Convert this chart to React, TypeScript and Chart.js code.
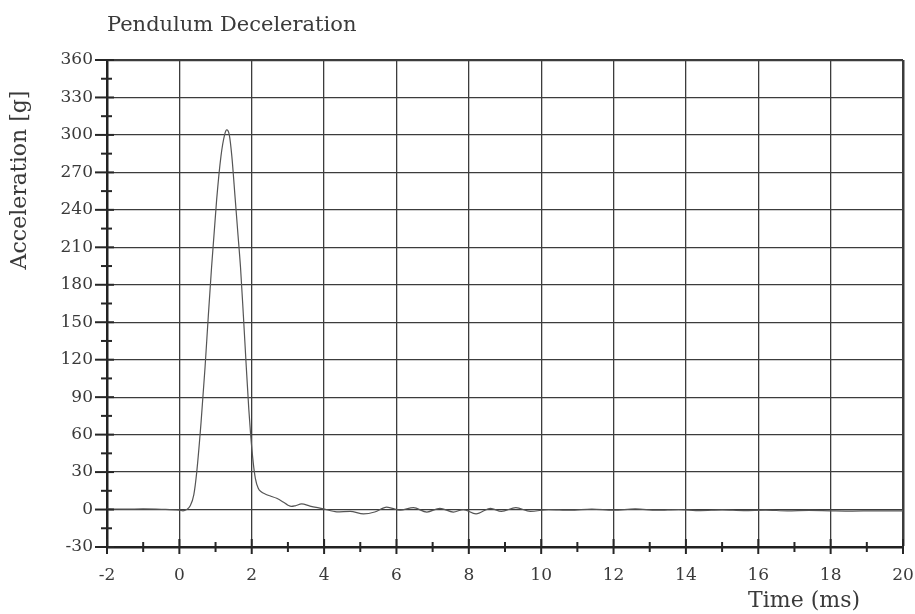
import React, { useEffect, useRef } from "react";
import { Chart, registerables } from "chart.js";

Chart.register(...registerables);

const TITLE = "Pendulum Deceleration";
const X_TITLE = "Time (ms)";
const Y_TITLE = "Acceleration [g]";

const X_MIN = -2;
const X_MAX = 20;
const X_STEP = 2;
const Y_MIN = -30;
const Y_MAX = 360;
const Y_STEP = 30;

const timeMs = [
  -2, -1.5, -1, -0.5, 0, 0.1, 0.2, 0.3, 0.4, 0.48, 0.6, 0.71, 0.8, 0.89, 1.03,
  1.15, 1.25, 1.31, 1.38, 1.45, 1.54, 1.62, 1.69, 1.77, 1.85, 1.92, 1.97, 2.04,
  2.1, 2.18, 2.27, 2.37, 2.5, 2.69, 2.87, 3.0, 3.1, 3.2, 3.38, 3.61, 3.98, 4.35,
  4.72, 5.09, 5.4, 5.73, 6.1, 6.47, 6.84, 7.2, 7.57, 7.85, 8.2, 8.6, 8.9, 9.3,
  9.7, 10.2, 10.8, 11.4, 12.0, 12.6, 13.2, 13.8, 14.4, 15.0, 15.6, 16.2, 16.8,
  17.4, 18.0, 18.6, 19.2, 20,
];

const accelG = [
  0.5, 0.3, 0.5, 0.2, -0.5, -1, 0, 3, 12, 30, 70, 114, 155, 194, 248,
  283, 300, 304, 300, 283, 250, 220, 194, 155, 114, 80, 60, 38,
  25, 17, 14, 12.5, 11, 9, 6, 3.5, 2.5, 3, 4.5, 2.8, 0.6, -1.8,
  -1.5, -3.5, -2, 2, -0.5, 1.5, -2, 1, -2, 0, -3.5, 1, -1.5, 1.5,
  -1.5, 0, -0.5, 0.3, -0.5, 0.5, -0.5, 0, -0.8, -0.3, -0.8, -0.5, -1,
  -0.7, -1, -1.2, -1, -1,
];

const FONT = "'DejaVu Serif', 'Liberation Serif', serif";
const TEXT_COLOR = "#3a3a3a";
const GRID_COLOR = "#3c3c3c";

const decorPlugin = {
  id: "decor",
  afterDraw(chart: any) {
    const { ctx, chartArea, scales } = chart;
    const xs = scales.x;
    const ys = scales.y;
    ctx.save();
    ctx.strokeStyle = "#262626";
    ctx.lineWidth = 2;
    for (let v = Y_MIN; v <= Y_MAX; v += Y_STEP / 2) {
      const y = ys.getPixelForValue(v);
      const major = (v - Y_MIN) % Y_STEP === 0;
      ctx.beginPath();
      if (major) {
        ctx.moveTo(chartArea.left - 12, y);
        ctx.lineTo(chartArea.left + 7, y);
      } else {
        ctx.moveTo(chartArea.left - 6, y);
        ctx.lineTo(chartArea.left + 5, y);
      }
      ctx.stroke();
    }
    for (let v = X_MIN; v <= X_MAX; v += X_STEP / 2) {
      const x = xs.getPixelForValue(v);
      const major = (v - X_MIN) % X_STEP === 0;
      ctx.beginPath();
      if (major) {
        ctx.moveTo(x, chartArea.bottom - 8);
        ctx.lineTo(x, chartArea.bottom + 7);
      } else {
        ctx.moveTo(x, chartArea.bottom - 5);
        ctx.lineTo(x, chartArea.bottom + 5);
      }
      ctx.stroke();
    }
    ctx.fillStyle = TEXT_COLOR;
    ctx.font = `21px ${FONT}`;
    ctx.textAlign = "left";
    ctx.textBaseline = "alphabetic";
    ctx.fillText(TITLE, chartArea.left, 31);

    ctx.font = `22px ${FONT}`;
    ctx.textAlign = "right";
    ctx.fillText(X_TITLE, 860, 607);

    ctx.translate(26, 180);
    ctx.rotate(-Math.PI / 2);
    ctx.textAlign = "center";
    ctx.fillText(Y_TITLE, 0, 0);
    ctx.restore();
  },
};

export default function App() {
  const ref = useRef<HTMLCanvasElement | null>(null);

  useEffect(() => {
    if (!ref.current) return;
    const points = timeMs.map((t, i) => ({ x: t, y: accelG[i] }));
    const chart = new Chart(ref.current, {
      type: "scatter",
      data: {
        datasets: [
          {
            label: Y_TITLE,
            data: points,
            showLine: true,
            borderColor: "#555555",
            borderWidth: 1.2,
            pointRadius: 0,
            cubicInterpolationMode: "monotone",
            fill: false,
          },
        ],
      },
      options: {
        responsive: false,
        animation: false,
        layout: { padding: { top: 60, right: 12, left: 0, bottom: 0 } },
        plugins: {
          legend: { display: false },
          title: { display: false },
          tooltip: { enabled: false },
        },
        scales: {
          x: {
            type: "linear",
            min: X_MIN,
            max: X_MAX,
            afterFit: (s: any) => {
              s.height = 67;
              s.paddingLeft = 0;
              s.paddingRight = 0;
            },
            ticks: {
              stepSize: X_STEP,
              padding: 18,
              color: TEXT_COLOR,
              font: { family: FONT, size: 17 },
              maxRotation: 0,
            },
            grid: {
              drawTicks: false,
              color: GRID_COLOR,
              lineWidth: (c: any) => (c.tick && c.tick.value === X_MAX ? 2.5 : 1.3),
            },
            border: { display: true, color: "#222", width: 2.5 },
          },
          y: {
            type: "linear",
            min: Y_MIN,
            max: Y_MAX,
            afterFit: (s: any) => {
              s.width = 107;
              s.paddingTop = 0;
              s.paddingBottom = 0;
            },
            ticks: {
              stepSize: Y_STEP,
              padding: 14,
              color: TEXT_COLOR,
              font: { family: FONT, size: 17 },
            },
            grid: {
              drawTicks: false,
              color: GRID_COLOR,
              lineWidth: (c: any) => (c.tick && c.tick.value === Y_MAX ? 2.2 : 1.3),
            },
            border: { display: true, color: "#222", width: 2.5 },
          },
        },
      },
      plugins: [decorPlugin],
    });
    return () => chart.destroy();
  }, []);

  return (
    <div style={{ position: "absolute", left: 0, top: 0, width: 915, height: 614, background: "#fff" }}>
      <canvas ref={ref} width={915} height={614} />
    </div>
  );
}
